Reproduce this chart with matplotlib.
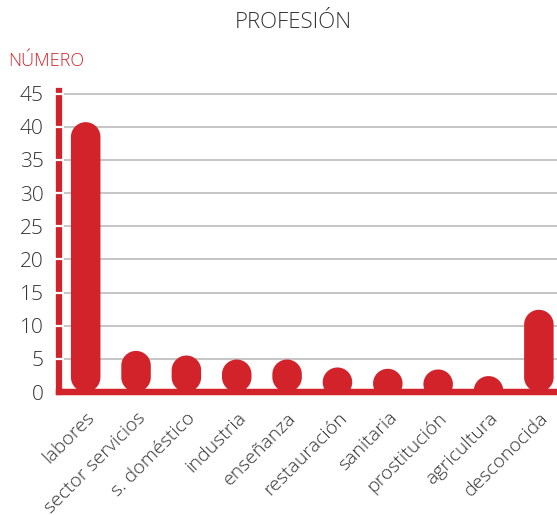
import numpy as np
import matplotlib
matplotlib.use("Agg")
import matplotlib.pyplot as plt
from matplotlib.path import Path
from matplotlib.patches import PathPatch
from matplotlib.transforms import blended_transform_factory

# Data
categorias = ["labores", "sector servicios", "s. doméstico", "industria",
              "enseñanza", "restauración", "sanitaria", "prostitución",
              "agricultura", "desconocida"]
numero = [40.7, 6.2, 5.5, 4.9, 4.9, 3.7, 3.5, 3.4, 2.4, 12.4]
y_ticks = [0, 5, 10, 15, 20, 25, 30, 35, 40, 45]

ROJO = "#d2232a"
GRIS_TXT = "#333333"
GRIS_GRID = "#b5b5b5"
FONT = "Open Sans"
PESO = 300

W, H, DPI = 557, 515, 100
plt.rcParams["font.family"] = [FONT, "DejaVu Sans"]
plt.rcParams["font.weight"] = PESO
fig = plt.figure(figsize=(W / DPI, H / DPI), dpi=DPI)

# axes placed in pixel terms
left_px, right_px, bottom_px, top_px = 59, 557, 392, 91
ax = fig.add_axes([left_px / W, 1 - bottom_px / H,
                   (right_px - left_px) / W, (bottom_px - top_px) / H])

x = np.arange(len(categorias))
ax.set_xlim(-0.53, 9.36)
ax.set_ylim(0, 45.4)

ax.set_yticks(y_ticks, [str(t) for t in y_ticks])
ax.set_xticks(x, categorias)
for lab in ax.get_xticklabels():
    lab.set_rotation(45)
    lab.set_ha("right")
    lab.set_va("top")
    lab.set_rotation_mode("anchor")

ax.grid(axis="y", color=GRIS_GRID, linewidth=1.1)
ax.set_axisbelow(True)

for s in ["top", "right"]:
    ax.spines[s].set_visible(False)
for s in ["left", "bottom"]:
    ax.spines[s].set_color(ROJO)
    ax.spines[s].set_linewidth(4.5)

ax.tick_params(axis="y", length=0, pad=11, labelsize=15, labelcolor=GRIS_TXT)
ax.tick_params(axis="x", length=0, pad=12, labelsize=14, labelcolor=GRIS_TXT)

# white notches cutting through the red left spine at every tick
notch_tr = blended_transform_factory(ax.transAxes, ax.transData)
ax.plot(np.zeros(len(y_ticks) - 1), y_ticks[1:], linestyle="none",
        marker="_", markersize=6.5, markeredgewidth=1.6, color="white",
        transform=notch_tr, clip_on=False, zorder=5)

# capsule-shaped columns: width fixed in pixels, rounded ends
fig.canvas.draw()
p0 = ax.transData.transform((0, 0))
p1 = ax.transData.transform((1, 1))
px_x = p1[0] - p0[0]
px_y = p1[1] - p0[1]
bar_px = 29.5
rx = (bar_px / 2) / px_x
ry = (bar_px / 2) / px_y


def capsule(xc, top):
    theta_top = np.linspace(0, np.pi, 40)
    theta_bot = np.linspace(np.pi, 2 * np.pi, 40)
    if top >= 2 * ry:
        yc_top, yc_bot = top - ry, ry
    else:
        yc_top = yc_bot = top - ry
    pts = np.vstack([
        np.column_stack([xc + rx * np.cos(theta_top), yc_top + ry * np.sin(theta_top)]),
        np.column_stack([xc + rx * np.cos(theta_bot), yc_bot + ry * np.sin(theta_bot)]),
    ])
    pts = np.vstack([pts, pts[:1]])
    codes = [Path.MOVETO] + [Path.LINETO] * (len(pts) - 2) + [Path.CLOSEPOLY]
    return Path(pts, codes)


for xi, v in zip(x, numero):
    ax.add_patch(PathPatch(capsule(xi, v), facecolor=ROJO, edgecolor="none",
                           zorder=2))

# red baseline drawn over the columns
ax.axhline(0, color=ROJO, linewidth=4.5, zorder=3, clip_on=False)

fig.text(293 / W, 1 - 22 / H, "PROFESIÓN", ha="center", va="center",
         fontsize=16, color=GRIS_TXT)
fig.text(8 / W, 1 - 61 / H, "NÚMERO", ha="left", va="center",
         fontsize=13, color=ROJO)

fig.savefig("out.png", dpi=DPI, facecolor="white")
